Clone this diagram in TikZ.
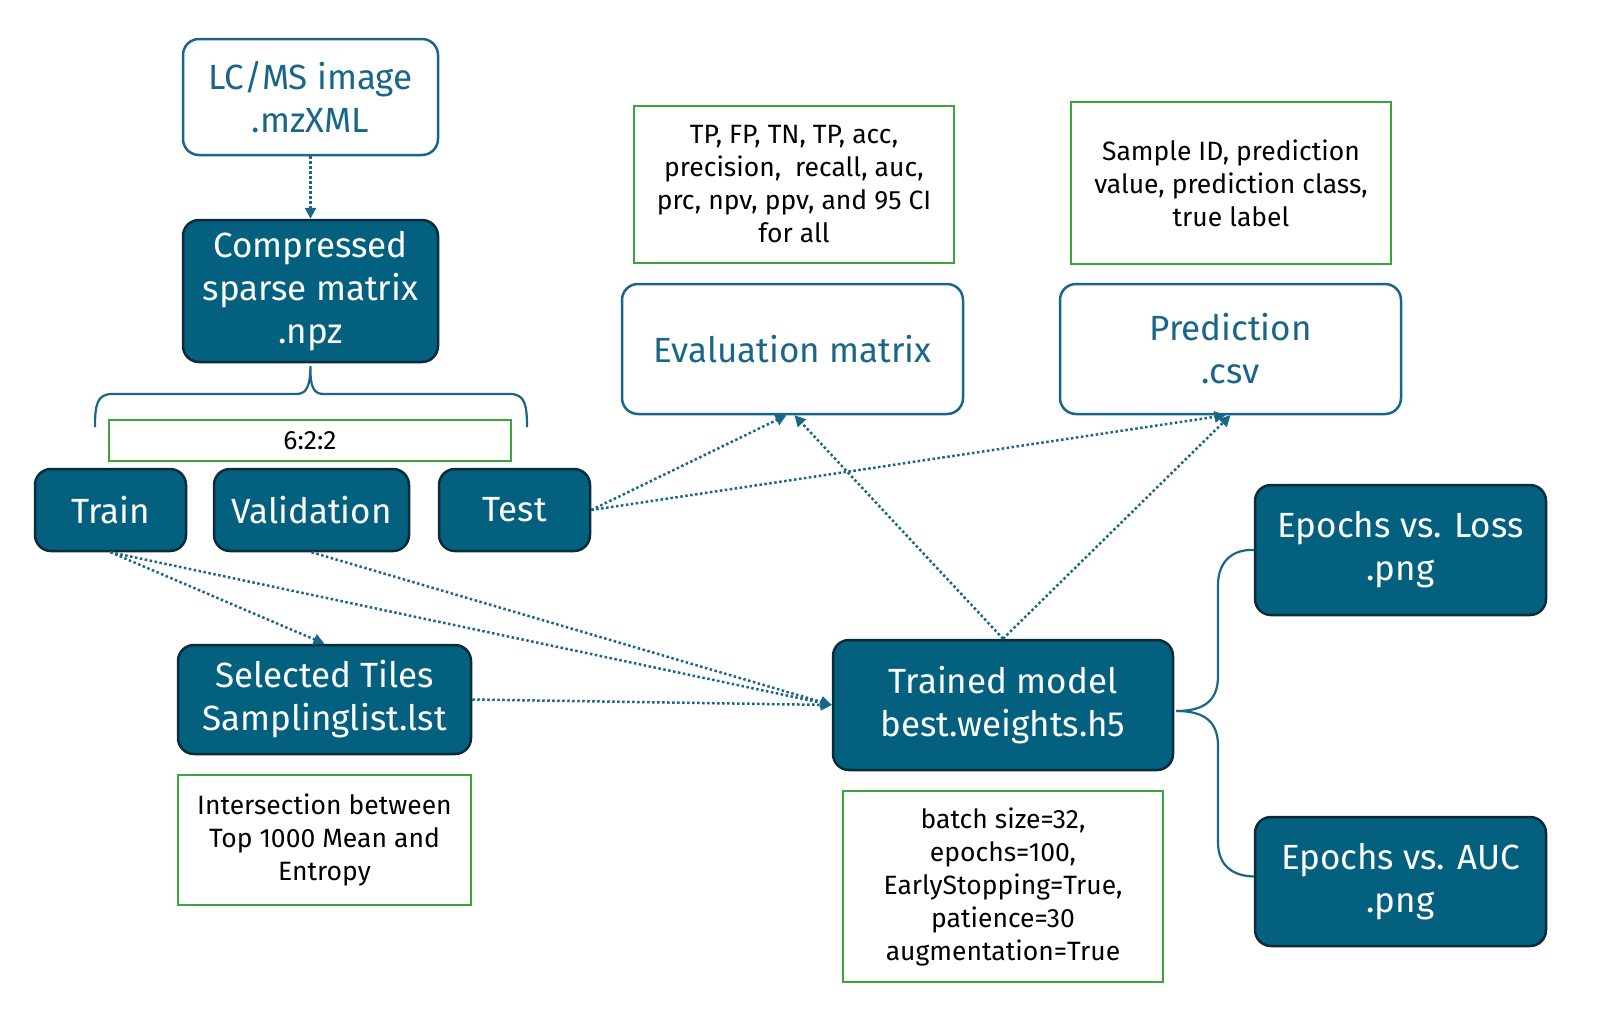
\documentclass[tikz,border=0pt]{standalone}
\usepackage{fontspec}
\setmainfont{Fira Sans}
\usetikzlibrary{arrows.meta,calc}
\definecolor{dteal}{HTML}{03607F}
\definecolor{dborder}{HTML}{0B2C3B}
\definecolor{lteal}{HTML}{1A6688}
\definecolor{gbox}{HTML}{3AA53A}
\tikzset{
  box/.style={rectangle, rounded corners=16pt, line width=2.5pt, align=center, inner sep=0pt,
    font=\fontsize{35}{43}\selectfont},
  darkbox/.style={box, fill=dteal, draw=dborder, text=white},
  lightbox/.style={box, fill=white, draw=lteal, text=lteal},
  greenbox/.style={rectangle, draw=gbox, line width=2.2pt, align=center, inner sep=0pt,
    text=black, font=\fontsize{26.5}{33}\selectfont},
  arr/.style={draw=lteal, line width=2.5pt, dash pattern=on 2.5pt off 2.5pt,
    -{Triangle[width=11pt,length=11pt]}, shorten >=0pt},
  bracel/.style={draw=lteal, line width=2.2pt}
}
\begin{document}
\begin{tikzpicture}[x=1pt,y=-1pt]
\useasboundingbox (0,0) rectangle (1612,1012);
\node[lightbox, minimum width=255pt, minimum height=116pt] (lcms) at (310.5,97) {LC/MS image\\.mzXML};
\node[darkbox, minimum width=255pt, minimum height=142pt] (comp) at (310.5,291) {Compressed\\sparse matrix\\.npz};
\node[greenbox, minimum width=402pt, minimum height=41pt] (ratio) at (310,440.5) {6:2:2};
\node[darkbox, minimum width=151pt, minimum height=82pt] (train) at (110.5,510) {Train};
\node[darkbox, minimum width=195pt, minimum height=82pt] (val) at (311.5,510) {Validation};
\node[darkbox, minimum width=151pt, minimum height=82pt] (test) at (514.5,510) {Test};
\node[greenbox, minimum width=320pt, minimum height=157pt] (evalg) at (794,184.5) {TP, FP, TN, TP, acc,\\precision,\ \ recall, auc,\\prc, npv, ppv, and 95 CI\\for all};
\node[lightbox, minimum width=341pt, minimum height=130pt] (eval) at (792.5,349) {Evaluation matrix};
\node[greenbox, minimum width=320pt, minimum height=162pt] (predg) at (1231,183) {Sample ID, prediction\\value, prediction class,\\true label};
\node[lightbox, minimum width=341pt, minimum height=130pt] (pred) at (1230.5,349) {Prediction\\.csv};
\node[darkbox, minimum width=291pt, minimum height=130pt] (loss) at (1400.5,550) {Epochs vs. Loss\\.png};
\node[darkbox, minimum width=291pt, minimum height=129pt] (auc) at (1400.5,881.5) {Epochs vs. AUC\\.png};
\node[darkbox, minimum width=340pt, minimum height=130pt] (trained) at (1003,705) {Trained model\\best.weights.h5};
\node[darkbox, minimum width=293pt, minimum height=109pt] (tiles) at (324.5,699.5) {Selected Tiles\\Samplinglist.lst};
\node[greenbox, minimum width=293pt, minimum height=130pt] (inter) at (324.5,840) {Intersection between\\Top 1000 Mean and\\Entropy};
\node[greenbox, minimum width=320pt, minimum height=191pt] (batch) at (1003,886.5) {batch size=32,\\epochs=100,\\EarlyStopping=True,\\patience=30\\augmentation=True};
% top brace
\coordinate (btip) at ($(comp.south)+(0,3)$);
\draw[bracel] (95,427) .. controls (95,405) and (97,394) .. (112,394) -- (296,394)
  .. controls (306,394) and (310,388) .. (btip)
  .. controls (310,388) and (314,394) .. (324,394) -- (510,394)
  .. controls (525,394) and (527,405) .. (527,427);
% right brace
\coordinate (rtip) at ($(trained.east)+(2,6)$);
\draw[bracel] (rtip) .. controls (1205,711) and (1218,700) .. (1218,676) -- (1218,585)
  .. controls (1218,562) and (1232,549) .. (loss.west);
\draw[bracel] (rtip) .. controls (1205,711) and (1218,722) .. (1218,746) -- (1218,842)
  .. controls (1218,865) and (1232,876) .. ($(auc.west)+(0,-5)$);
% arrows
\draw[arr] (lcms.south) -- (comp.north);
\draw[arr] (test.east) -- ($(eval.south)+(-6,0)$);
\draw[arr] (test.east) -- ($(pred.south)+(-5,0)$);
\draw[arr] (trained.north) -- ($(eval.south)+(2,0)$);
\draw[arr] (trained.north) -- ($(pred.south)+(0,0)$);
\draw[arr] (train.south) -- (tiles.north);
\draw[arr] (train.south) -- (trained.west);
\draw[arr] (val.south) -- (trained.west);
\draw[arr] (tiles.east) -- (trained.west);
\end{tikzpicture}
\end{document}
